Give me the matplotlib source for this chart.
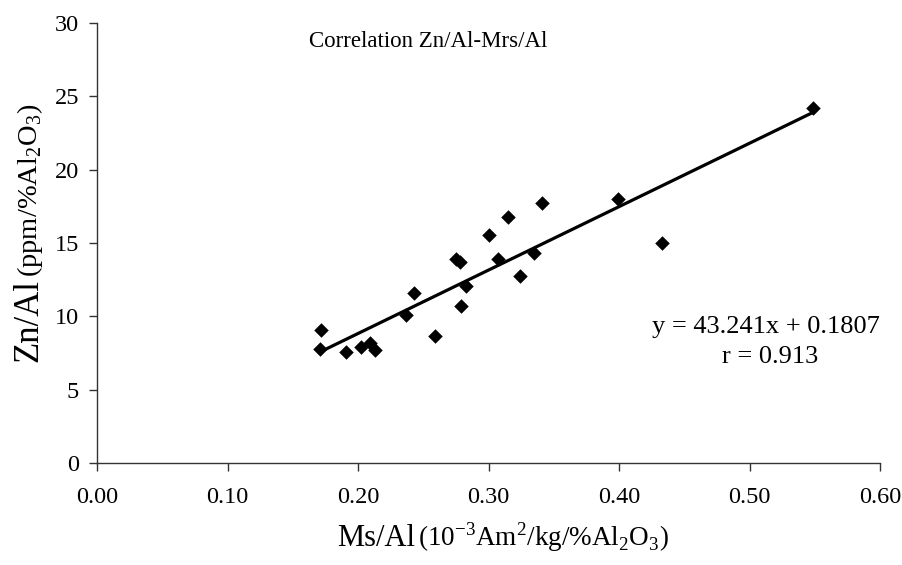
import numpy as np
import matplotlib
matplotlib.use("Agg")
import matplotlib.pyplot as plt

# datos
ms_al = [0.172, 0.171, 0.191, 0.202, 0.209, 0.213, 0.237, 0.243, 0.259, 0.275,
         0.278, 0.279, 0.283, 0.300, 0.307, 0.315, 0.324, 0.335, 0.341, 0.399,
         0.433, 0.549]
zn_al = [9.07, 7.75, 7.59, 7.89, 8.16, 7.70, 10.09, 11.61, 8.66, 13.88,
         13.72, 10.70, 12.07, 15.54, 13.90, 16.79, 12.77, 14.34, 17.70, 18.00,
         14.97, 24.18]
slope = 43.241
intercept = 0.1807
r_value = 0.913

x_ticks = [0.0, 0.1, 0.2, 0.3, 0.4, 0.5, 0.6]
y_ticks = [0, 5, 10, 15, 20, 25, 30]

plt.rcParams['font.family'] = ['Liberation Serif', 'DejaVu Serif']
plt.rcParams['mathtext.fontset'] = 'custom'
plt.rcParams['mathtext.rm'] = 'Liberation Serif'

W, H = 902, 565
fig = plt.figure(figsize=(W / 100, H / 100), dpi=100)
ax = fig.add_axes([97 / W, 1 - 463 / H, (880 - 97) / W, (463 - 23) / H])

ax.scatter(ms_al, zn_al, marker='D', s=7.4 ** 2, color='black', zorder=3, linewidths=0)
xl = np.array([min(ms_al), max(ms_al)])
ax.plot(xl, slope * xl + intercept, color='black', lw=2.3, zorder=2)

ax.set_xlim(0, 0.6)
ax.set_ylim(0, 30)
ax.set_xticks(x_ticks)
ax.set_xticklabels([f"{v:.2f}" for v in x_ticks])
ax.set_yticks(y_ticks)
ax.tick_params(direction='out', length=5.5, width=1, labelsize=17.5, color='#333333')
ax.tick_params(axis='x', pad=12)
ax.tick_params(axis='y', pad=7.5)
for s in ['top', 'right']:
    ax.spines[s].set_visible(False)
for s in ['left', 'bottom']:
    ax.spines[s].set_color('#333333')
    ax.spines[s].set_linewidth(1)

ax.text(0.423, 0.958, "Correlation Zn/Al-Mrs/Al", transform=ax.transAxes,
        ha='center', va='center', fontsize=16.5)

# ecuacion de la recta y coeficiente
fig.text(766 / W, 1 - 333 / H, f"y = {slope}x + {intercept}", ha='center',
         va='baseline', fontsize=19)
fig.text(770 / W, 1 - 363 / H, f"r = {r_value}", ha='center',
         va='baseline', fontsize=19)

# etiqueta x en dos tamaños
px, py = 415 / W, 1 - 546 / H
fig.text(px, py, "Ms/Al", fontsize=22, ha='right', va='baseline')
fig.text(px + 3 / W, py, r"(10$^{-3}$Am$^{2}$/kg/%Al$_{2}$O$_{3}$)", fontsize=19.5,
         ha='left', va='baseline')

# etiqueta y en dos tamaños
qx, qy = 37 / W, 1 - 279 / H
fig.text(qx, qy, "Zn/Al", fontsize=25, ha='right', va='baseline',
         rotation=90, rotation_mode='anchor')
fig.text(qx, qy + 2 / H, r"(ppm/%Al$_{2}$O$_{3}$)", fontsize=20.5, ha='left', va='baseline',
         rotation=90, rotation_mode='anchor')

fig.savefig("out.png", dpi=100)
